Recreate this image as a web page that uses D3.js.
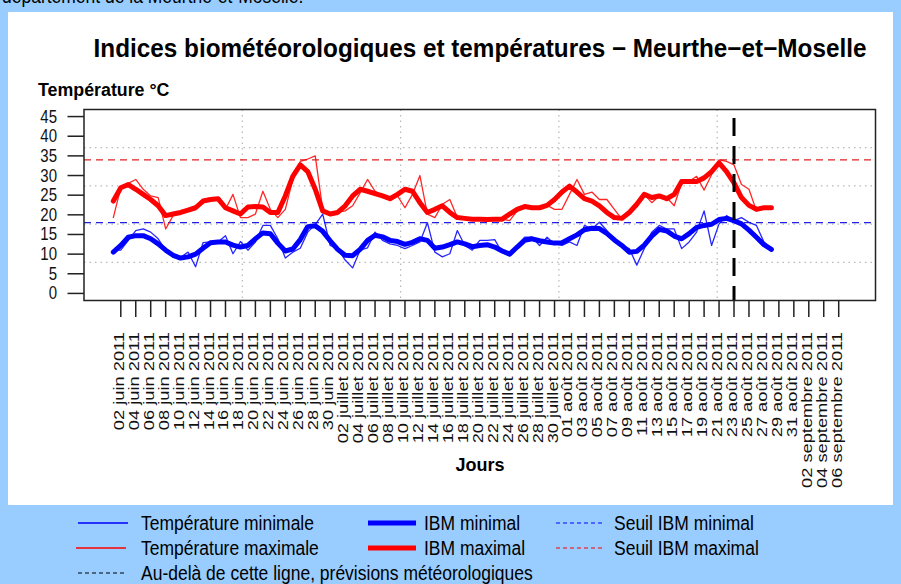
<!DOCTYPE html>
<html><head><meta charset="utf-8">
<script src="https://cdn.jsdelivr.net/npm/d3@7/dist/d3.min.js"></script>
<style>
html,body{margin:0;padding:0;background:#99ccff;}
svg{display:block;}
text{font-family:"Liberation Sans",Arial,Helvetica,sans-serif;}
</style></head>
<body>
<svg id="chart" width="901" height="584"></svg>
<script>
// ---- data ----
const startDate = "2011-06-01"; // first data day
const forecastDate = "2011-08-23";
const seuilMin = 18;
const seuilMax = 34;
const yTicks = [0,5,10,15,20,25,30,35,40,45];
const tickLabels = [
 "02 juin 2011","04 juin 2011","06 juin 2011","08 juin 2011","10 juin 2011","12 juin 2011","14 juin 2011","16 juin 2011","18 juin 2011","20 juin 2011","22 juin 2011","24 juin 2011","26 juin 2011","28 juin 2011","30 juin 2011",
 "02 juillet 2011","04 juillet 2011","06 juillet 2011","08 juillet 2011","10 juillet 2011","12 juillet 2011","14 juillet 2011","16 juillet 2011","18 juillet 2011","20 juillet 2011","22 juillet 2011","24 juillet 2011","26 juillet 2011","28 juillet 2011","30 juillet 2011",
 "01 août 2011","03 août 2011","05 août 2011","07 août 2011","09 août 2011","11 août 2011","13 août 2011","15 août 2011","17 août 2011","19 août 2011","21 août 2011","23 août 2011","25 août 2011","27 août 2011","29 août 2011","31 août 2011",
 "02 septembre 2011","04 septembre 2011","06 septembre 2011"];
// daily series from 01 juin 2011 to 28 août 2011
const tempMin = [11,11,13.5,16,16.4,15.6,13.9,11,10.1,9.2,10.5,6.8,12.9,13.1,13.1,14.7,10.1,13.2,11,13.1,17.3,17.3,13.9,9,10.5,11.5,15.6,17.5,20.2,12.2,
 11.4,8.5,6.5,11,11.6,15.6,13.5,12.6,12.2,11.4,12.2,13.1,18,10.5,9.3,10.1,16,12.2,11,13.5,13.5,13.7,10.4,9.7,12.2,14.3,14.3,12.2,14.3,12.6,12.2,
 13.1,12.2,17.3,16.4,18.1,16,13.1,12.2,11.4,7.2,11.4,15.6,17.3,16.4,16.4,11.4,13.1,15.6,21,12.2,17.7,19.8,18.5,19.3,18.1,17.3,13.1,11.4];
const tempMax = [19.3,26.9,28,29,26.5,24.8,24.4,16.4,19.8,20.6,21.4,22.3,23.5,23.9,24.4,21.4,25.2,19.3,19.3,20.2,26,21.4,19.3,21.4,29,33.6,34.2,35,21.4,20.2,
 20.6,21,22.3,25.6,29,26,24.8,23.9,24.8,21.8,25.2,30,20.2,19.3,22.7,23.9,19.3,18.9,18.9,18.8,18.8,18.8,18.9,18.5,21,22.3,22,21.8,22.4,21.4,21.4,
 25.2,29,25.2,25.8,23.9,23.9,21.4,18.9,20.2,22.3,25.2,23.1,24.8,24.4,22.3,28.1,28.5,29.8,26.3,30.2,34,33.6,32.7,27.7,26.5,21,21.8,21.8];
const ibmMin = [10.5,12.2,14.3,14.7,14.7,13.9,12.6,11,9.7,9,9.3,10,11.5,12.9,13.1,13.1,12.3,11.8,12.2,13.9,15.4,15.2,12.8,10.8,11.3,13.7,17,17.2,15.8,13.4,
 11.2,9.7,9.6,11.2,13.5,14.8,14.4,13.5,13.2,12.5,13,13.9,13.5,11.5,11.8,12.4,13.1,12.6,11.9,12.2,12.4,11.8,10.8,10,11.8,13.5,13.9,13.4,13.1,12.8,12.9,
 13.9,14.9,16.2,16.6,16.5,15.3,13.6,12.2,10.5,10.7,12.3,14.6,16.3,15.9,14.6,13.9,15.2,16.8,17.3,17.6,18.8,19.1,18.5,17.7,16.1,14.3,12.4,11.2];
const ibmMax = [23.5,26.9,27.7,26.5,25.2,23.9,22.3,19.8,20.2,20.6,21.2,21.8,23.5,23.9,24.1,21.8,21,20.2,22,22.1,22,20.6,20.6,24.8,29.8,32.7,31,26.5,21,20.2,
 20.6,22.3,24.8,26.5,26,25.4,24.8,24.1,25.2,26.5,26,23.1,20.6,21.4,22.3,20.6,19.3,19.1,18.9,18.9,18.8,18.9,18.9,20.2,21.4,22.1,21.8,21.8,22.4,23.9,25.8,
 27.3,25.8,24.1,23.5,22.3,20.6,19.3,19.1,20.6,22.7,25.2,24.4,24.8,24.1,25.2,28.5,28.5,28.5,29.4,31,33.2,31,28.1,24.4,22.4,21.4,21.8,21.8];

// ---- layout ----
const svg = d3.select("#chart");
const SY = 1.2; // vertical stretch of text in the reference picture
const plot = {left:84, right:875.5, top:109.5, bottom:300.5};
const parse = d3.timeParse("%Y-%m-%d");
const d0 = parse(startDate);
const day = n => 864e5*n;
const x = d3.scaleTime()
  .domain([new Date(+d0 - day(3.92)), new Date(+d0 + day(101.92))])
  .range([plot.left, plot.right]);
const y = d3.scaleLinear().domain([-1.8, 46.8]).range([plot.bottom, plot.top]);
const dates = tempMin.map((_, i) => d3.timeDay.offset(d0, i));

// top cut-off text
svg.append("text").attr("transform","translate(2,3) scale(1,"+SY+")")
  .attr("font-size",17.5).text("département de la Meurthe-et-Moselle.");

// white panel
svg.append("rect").attr("x",8).attr("y",12).attr("width",885).attr("height",493).attr("fill","#fff");

// title
svg.append("text").attr("transform","translate(480,57) scale(1,1.05)")
  .attr("text-anchor","middle").attr("font-size",24.3).attr("font-weight","bold")
  .text("Indices biométéorologiques et températures \u2212 Meurthe\u2212et\u2212Moselle");
svg.append("text").attr("transform","translate(38,96) scale(1,1.05)")
  .attr("font-size",17.8).attr("font-weight","bold").text("Température °C");

// grid (5 x 5 equal cells)
const g = svg.append("g");
const xd = x.domain().map(Number), yd = y.domain();
for (let i = 1; i < 5; i++) {
  const gx = x(new Date(xd[0] + (xd[1]-xd[0])*i/5));
  g.append("line").attr("x1",gx).attr("x2",gx).attr("y1",plot.top).attr("y2",plot.bottom)
   .attr("stroke","#b8b8b8").attr("stroke-width",1.2).attr("stroke-dasharray","1.5,4");
  const gy = y(yd[0] + (yd[1]-yd[0])*i/5);
  g.append("line").attr("x1",plot.left).attr("x2",plot.right).attr("y1",gy).attr("y2",gy)
   .attr("stroke","#b8b8b8").attr("stroke-width",1.2).attr("stroke-dasharray","1.5,4");
}

// thresholds
[[seuilMax,"#dd2222"],[seuilMin,"#2222dd"]].forEach(([v,c]) => {
  svg.append("line").attr("x1",plot.left).attr("x2",plot.right).attr("y1",y(v)).attr("y2",y(v))
    .attr("stroke",c).attr("stroke-width",1.3).attr("stroke-dasharray","7,5");
});

// series
const line = d3.line().x((d,i) => x(dates[i])).y(d => y(d));
const series = [
  [tempMax,"#ff0000",1.3,0.85],[tempMin,"#0000ff",1.3,0.85],
  [ibmMax,"#ff0000",5,1],[ibmMin,"#0000ff",5,1]];
series.forEach(([data,c,w,o]) => {
  svg.append("path").datum(data).attr("d",line).attr("fill","none")
    .attr("stroke",c).attr("stroke-width",w).attr("stroke-opacity",o)
    .attr("stroke-linejoin","round").attr("stroke-linecap","round");
});

// forecast line
const fx = x(parse(forecastDate));
svg.append("line").attr("x1",fx).attr("x2",fx).attr("y1",118).attr("y2",plot.bottom)
  .attr("stroke","#000").attr("stroke-width",3).attr("stroke-dasharray","18,10");

// box
svg.append("rect").attr("x",plot.left).attr("y",plot.top).attr("width",plot.right-plot.left)
  .attr("height",plot.bottom-plot.top).attr("fill","none").attr("stroke","#222").attr("stroke-width",1.5);

// y axis
yTicks.forEach(v => {
  svg.append("line").attr("x1",plot.left-16.5).attr("x2",plot.left).attr("y1",y(v)).attr("y2",y(v))
    .attr("stroke","#222").attr("stroke-width",1.5);
  svg.append("text").attr("transform",`translate(57,${y(v)+6}) scale(1,${SY})`)
    .attr("text-anchor","end").attr("font-size",15).attr("fill","#111").text(v);
});

// x axis ticks + labels
const tickDates = tickLabels.map((_, i) => d3.timeDay.offset(d0, 1 + 2*i));
tickDates.forEach((d,i) => {
  const tx = x(d);
  svg.append("line").attr("x1",tx).attr("x2",tx).attr("y1",plot.bottom).attr("y2",plot.bottom+16.5)
    .attr("stroke","#222").attr("stroke-width",1.5);
  svg.append("text").attr("transform",`translate(${tx+3},332) scale(1,1.26) rotate(-90)`)
    .attr("text-anchor","end").attr("font-size",14.5).attr("fill","#111").text(tickLabels[i]);
});
svg.append("text").attr("transform","translate(480,471) scale(1,1.05)")
  .attr("text-anchor","middle").attr("font-size",18).attr("font-weight","bold").text("Jours");

// legend
const leg = [
  {x1:78,x2:128,y:523,c:"#0000ff",w:1.5,dash:null,tx:141,t:"Température minimale"},
  {x1:76,x2:126,y:548,c:"#ff0000",w:1.5,dash:null,tx:141,t:"Température maximale"},
  {x1:78,x2:126,y:573,c:"#000",w:1.2,dash:"4,3",tx:141,t:"Au-delà de cette ligne, prévisions météorologiques"},
  {x1:368,x2:416,y:523,c:"#0000ff",w:5,dash:null,tx:424,t:"IBM minimal"},
  {x1:368,x2:416,y:548,c:"#ff0000",w:5,dash:null,tx:424,t:"IBM maximal"},
  {x1:556,x2:604,y:523,c:"#0000ff",w:1.2,dash:"4,3",tx:614,t:"Seuil IBM minimal"},
  {x1:556,x2:604,y:548,c:"#ff0000",w:1.2,dash:"4,3",tx:614,t:"Seuil IBM maximal"}];
leg.forEach(l => {
  svg.append("line").attr("x1",l.x1).attr("x2",l.x2).attr("y1",l.y).attr("y2",l.y)
    .attr("stroke",l.c).attr("stroke-width",l.w).attr("stroke-dasharray",l.dash);
  svg.append("text").attr("transform",`translate(${l.tx},${l.y+7}) scale(1,${SY})`)
    .attr("font-size",17.5).attr("fill","#000").text(l.t);
});
</script>
</body></html>
